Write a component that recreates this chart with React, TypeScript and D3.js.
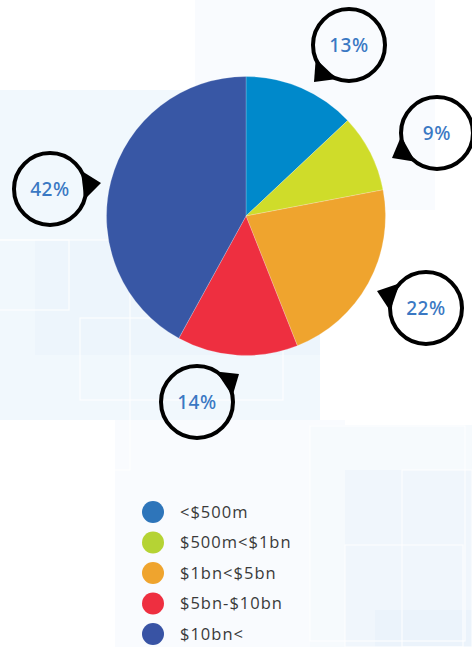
import * as d3 from 'd3'

const categories = ['<$500m', '$500m<$1bn', '$1bn<$5bn', '$5bn-$10bn', '$10bn<']
const shares = [13, 9, 22, 14, 42]
const sliceColors = ['#0089cb', '#cfdc2a', '#efa42e', '#ee2f40', '#3857a5']
const legendColors = ['#2e75ba', '#b5d334', '#efa42e', '#ee2f40', '#3853a4']

// where each callout bubble sits, and where its pointer goes
const bubbles = [
  { cx: 349, cy: 45, tx: 314, ty: 82 },
  { cx: 437, cy: 133, tx: 392, ty: 158 },
  { cx: 426, cy: 308, tx: 377, ty: 291 },
  { cx: 197, cy: 402, tx: 239, ty: 374 },
  { cx: 50, cy: 189, tx: 101, ty: 183 },
]

const W = 472
const H = 647
const cx = 246
const cy = 216
const R = 139.5
const bubbleR = 36

function pointer(b: { cx: number; cy: number; tx: number; ty: number }) {
  const a = Math.atan2(b.ty - b.cy, b.tx - b.cx)
  const spread = 0.42
  const p1 = [b.cx + bubbleR * Math.cos(a - spread), b.cy + bubbleR * Math.sin(a - spread)]
  const p2 = [b.cx + bubbleR * Math.cos(a + spread), b.cy + bubbleR * Math.sin(a + spread)]
  return `M${p1[0]},${p1[1]}L${b.tx},${b.ty}L${p2[0]},${p2[1]}Z`
}

export default function App() {
  const pie = d3.pie<number>().sort(null).value((d) => d)
  const arcs = pie(shares)
  const arc = d3.arc<d3.PieArcDatum<number>>().innerRadius(0).outerRadius(R)
  const legendY = d3.scalePoint<string>().domain(categories).range([512, 634])

  return (
    <svg width={W} height={H} style={{ position: 'absolute', left: 0, top: 0 }}>
      <rect width={W} height={H} fill="#ffffff" />
      {/* faint background panels */}
      <g>
        <rect x={195} y={0} width={240} height={210} fill="#f9fbfe" />
        <rect x={0} y={90} width={320} height={330} fill="#f1f8fd" />
        <rect x={35} y={240} width={285} height={115} fill="#edf5fc" />
        <rect x={115} y={420} width={230} height={227} fill="#f9fbfe" />
        <rect x={310} y={425} width={162} height={222} fill="#f6fafd" />
        <rect x={345} y={470} width={127} height={177} fill="#f0f6fc" />
        <rect x={375} y={610} width={97} height={37} fill="#ebf3fb" />
        <g fill="none" stroke="#ffffff" strokeWidth={1.2} strokeOpacity={0.8}>
          <rect x={-2} y={240} width={71} height={70} />
          <rect x={80} y={318} width={203} height={82} />
          <rect x={-2} y={240} width={132} height={230} />
          <rect x={310} y={426} width={155} height={215} />
          <rect x={345} y={545} width={118} height={102} />
          <rect x={402} y={470} width={70} height={177} />
        </g>
      </g>

      <g transform={`translate(${cx},${cy})`}>
        {arcs.map((a, i) => (
          <path key={categories[i]} d={arc(a) ?? ''} fill={sliceColors[i]} stroke="#ffffff" strokeOpacity={0.35} strokeWidth={0.6} />
        ))}
      </g>

      {bubbles.map((b, i) => (
        <g key={'b' + i}>
          <path d={pointer(b)} fill="#000000" />
          <circle cx={b.cx} cy={b.cy} r={bubbleR} fill="#ffffff" fillOpacity={0.001} stroke="#000000" strokeWidth={4} />
          <text
            x={b.cx}
            y={b.cy}
            dy="0.36em"
            textAnchor="middle"
            fill="#3a78c3"
            fontFamily="'Noto Sans', sans-serif"
            fontWeight={500}
            fontSize={19}
            letterSpacing={0.6}
          >
            {shares[i]}%
          </text>
        </g>
      ))}

      <g>
        {categories.map((c, i) => (
          <g key={c} transform={`translate(0,${legendY(c)})`}>
            <circle cx={153} cy={0} r={11} fill={legendColors[i]} />
            <text
              x={180}
              dy="0.36em"
              fill="#3a3a3a"
              fontFamily="'Open Sans', sans-serif"
              fontSize={16.5}
              letterSpacing={1}
            >
              {c}
            </text>
          </g>
        ))}
      </g>
    </svg>
  )
}
